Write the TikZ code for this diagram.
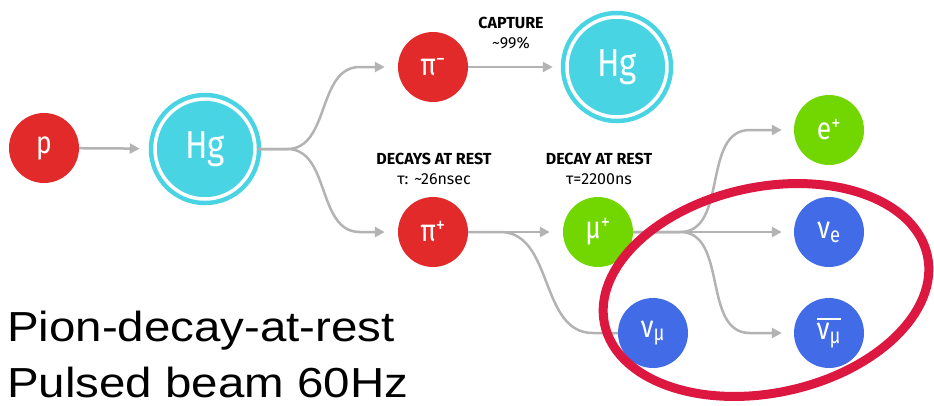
\documentclass[tikz,border=0pt]{standalone}
\usepackage{fontspec}
\usepackage{tikz}
\usetikzlibrary{positioning, arrows.meta}

\setmainfont{Fira Sans}
\newfontfamily\partfont{Fira Sans}[FakeStretch=0.85]
\newfontfamily\bigfont{Liberation Sans}[FakeStretch=1.13]

\definecolor{pionred}{HTML}{E32A2A}
\definecolor{hgcyan}{HTML}{48D4E3}
\definecolor{lepgreen}{HTML}{72D600}
\definecolor{nublue}{HTML}{426BE8}
\definecolor{arrowgray}{HTML}{B3B3B3}
\definecolor{ringred}{HTML}{DC1740}

% bar over the antineutrino
\newcommand{\antibar}[1]{\vbox{\hrule height 1.8pt\kern 3pt\hbox{#1}}}

\begin{document}
\begin{tikzpicture}[x=1pt,y=-1pt,>={Triangle[length=10pt,width=10pt]},
  part/.style={circle,minimum size=70pt,inner sep=0pt,text=white,
    font=\partfont\fontsize{31}{31}\selectfont},
  hadron/.style={part,fill=pionred},
  lepton/.style={part,fill=lepgreen},
  neutrino/.style={part,fill=nublue},
  target/.style={part,minimum size=100pt,fill=hgcyan,draw=hgcyan,double=white,
    double distance=3.5pt,line width=4.5pt,font=\partfont\fontsize{39}{39}\selectfont},
  conn/.style={draw=arrowgray,line width=2.5pt},
  note/.style={align=center,font=\rmfamily\fontsize{16}{20}\selectfont},
  ring/.style={draw=ringred,line width=9pt}]
  \useasboundingbox (0,0) rectangle (934,405);

  \node[hadron] (p) at (44,148) {p};
  \node[target] (hg) at (205,149) {Hg};
  \node[hadron] (pim) at (433,67) {π\textsuperscript{−}};
  \node[target] (hgcap) at (617,67) {Hg};
  \node[hadron] (pip) at (433,232) {π\textsuperscript{+}};
  \node[lepton] (mup) at (598,232) {μ\textsuperscript{+}};
  \node[lepton] (ep) at (829,130) {e\textsuperscript{+}};
  \node[neutrino] (nue) at (829,232) {ν\textsubscript{e}};
  \node[neutrino] (numubar) at (829,333) {\antibar{ν\textsubscript{μ}}};
  \node[neutrino] (numu) at (653,333) {ν\textsubscript{μ}};

  \coordinate (hgsplit) at ([xshift=30pt]hg.east);
  \coordinate (musplit) at ([xshift=47pt]mup.east);

  \draw[conn,->,shorten >=13pt] (p) -- (hg);
  \draw[conn,->,shorten >=13pt] (hg) -- (hgsplit) to[out=0,in=180] ([xshift=-38pt]pim.west) -- (pim);
  \draw[conn,->,shorten >=13pt] (hg) -- (hgsplit) to[out=0,in=180] ([xshift=-38pt]pip.west) -- (pip);
  \draw[conn,->,shorten >=12pt] (pim) -- (hgcap);
  \draw[conn,->,shorten >=13pt] (pip) -- (mup);
  \draw[conn] (pip) -- ([xshift=32pt]pip.east) to[out=0,in=180] ([xshift=-25pt]numu.west) -- (numu);
  \draw[conn,->,shorten >=12pt] (mup) -- (musplit) to[out=0,in=180] ([xshift=-44pt]ep.west) -- (ep);
  \draw[conn,->,shorten >=12pt] (mup) -- (nue);
  \draw[conn,->,shorten >=12pt] (mup) -- (musplit) to[out=0,in=180] ([xshift=-44pt]numubar.west) -- (numubar);

  \node[note] (capture) at (511,33) {\textbf{CAPTURE}\\\textasciitilde99\%};
  \node[note] (piondecay) at (434,169) {\textbf{DECAYS AT REST}\\τ: \textasciitilde26nsec};
  \node[note] (muondecay) at (599,169) {\textbf{DECAY AT REST}\\τ=2200ns};

  \draw[ring,rotate around={12:(766,290)}] (766,290) ellipse [x radius=165pt,y radius=103pt];

  \node[anchor=north west,inner sep=0pt,align=left,font=\bigfont\fontsize{42}{56}\selectfont]
    (title) at (7,311) {Pion-decay-at-rest\\Pulsed beam 60Hz};
\end{tikzpicture}
\end{document}
